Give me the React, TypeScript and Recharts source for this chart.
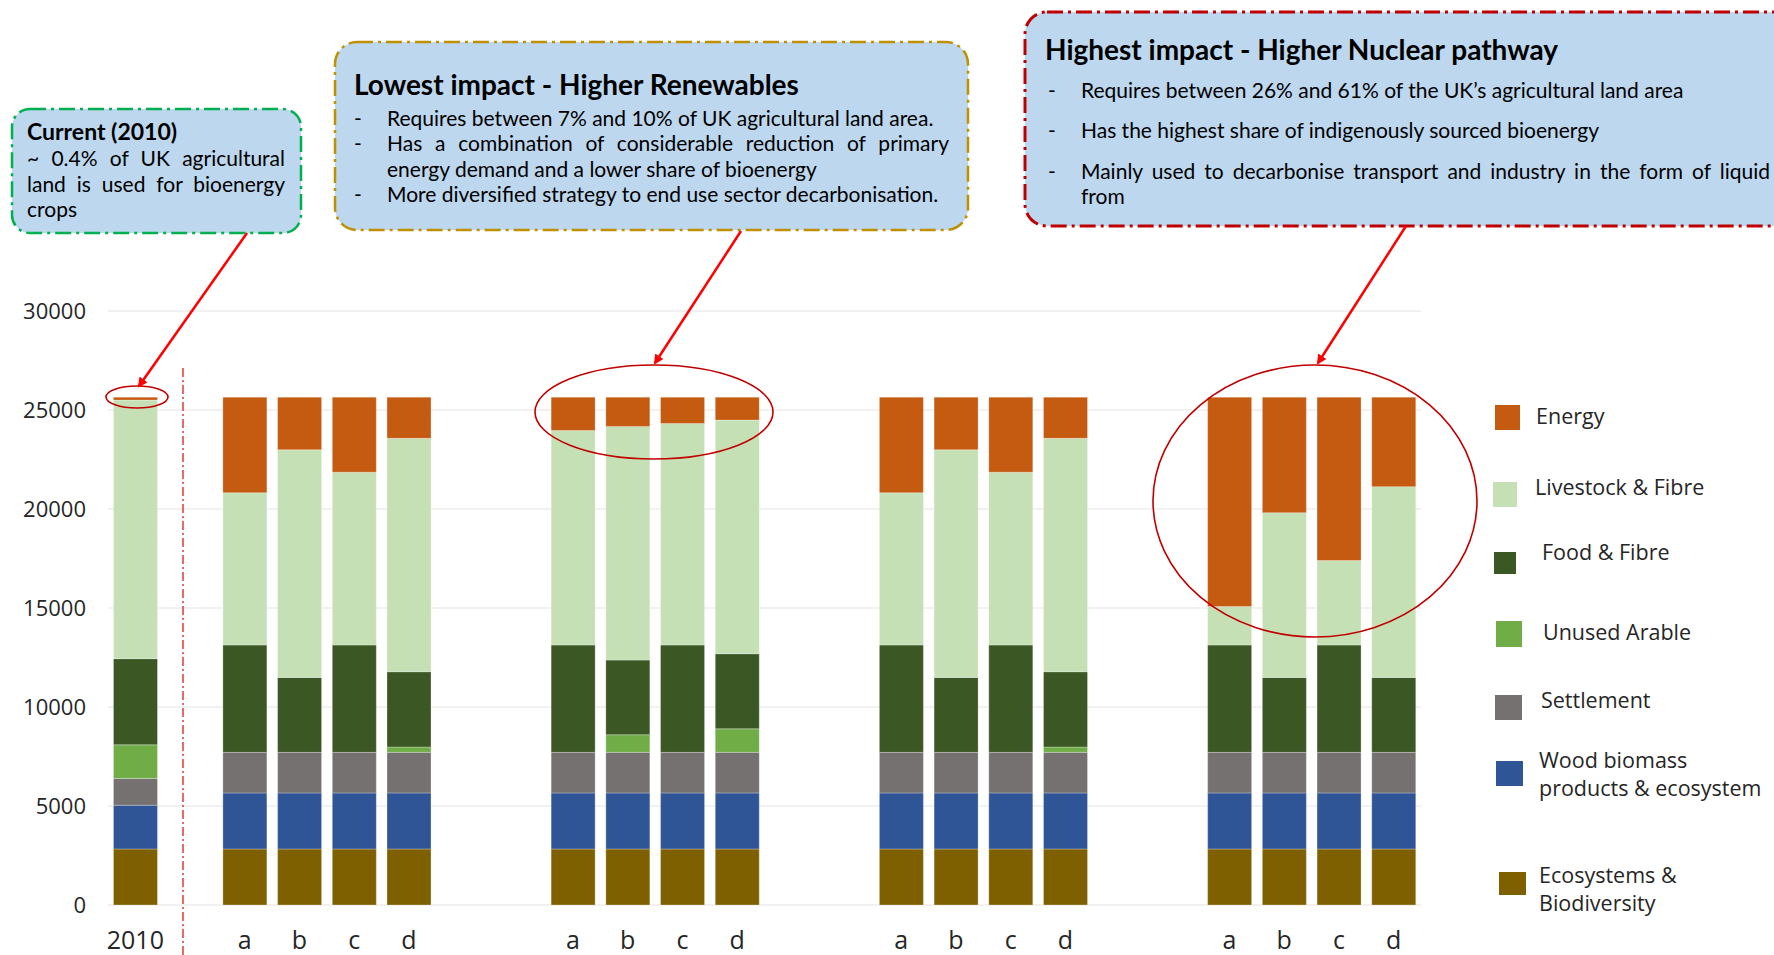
import React from 'react';
import { Bar, BarChart, CartesianGrid, XAxis, YAxis } from 'recharts';

// x slots: 2010, gap, 4 scenarios (a-d) per pathway, two empty slots between pathways
const categories = ['2010', '', 'a', 'b', 'c', 'd', '', '', 'a', 'b', 'c', 'd', '', '', 'a', 'b', 'c', 'd', '', '', 'a', 'b', 'c', 'd'];

const ecosystems = [2830, null, 2830, 2830, 2830, 2830, null, null, 2830, 2830, 2830, 2830, null, null, 2830, 2830, 2830, 2830, null, null, 2830, 2830, 2830, 2830];
const wood = [2210, null, 2830, 2830, 2830, 2830, null, null, 2830, 2830, 2830, 2830, null, null, 2830, 2830, 2830, 2830, null, null, 2830, 2830, 2830, 2830];
const settlement = [1350, null, 2050, 2050, 2050, 2050, null, null, 2050, 2050, 2050, 2050, null, null, 2050, 2050, 2050, 2050, null, null, 2050, 2050, 2050, 2050];
const unused = [1700, null, 0, 0, 0, 270, null, null, 0, 890, 0, 1190, null, null, 0, 0, 0, 270, null, null, 0, 0, 0, 0];
const food = [4350, null, 5420, 3780, 5420, 3800, null, null, 5420, 3770, 5420, 3790, null, null, 5420, 3780, 5420, 3800, null, null, 5420, 3780, 5420, 3780];
const livestock = [13060, null, 7690, 11500, 8730, 11790, null, null, 10840, 11800, 11190, 11800, null, null, 7690, 11500, 8730, 11790, null, null, 1940, 8320, 4270, 9640];
const energy = [150, null, 4830, 2660, 3790, 2080, null, null, 1680, 1480, 1330, 1160, null, null, 4830, 2660, 3790, 2080, null, null, 10580, 5840, 8250, 4520];

const yTicks = [0, 5000, 10000, 15000, 20000, 25000, 30000];

const series = [
  { key: 'eco', name: 'Ecosystems & Biodiversity', values: ecosystems, color: '#7F6000' },
  { key: 'wood', name: 'Wood biomass products & ecosystem', values: wood, color: '#2F5597' },
  { key: 'settlement', name: 'Settlement', values: settlement, color: '#767171' },
  { key: 'unused', name: 'Unused Arable', values: unused, color: '#70AD47' },
  { key: 'food', name: 'Food & Fibre', values: food, color: '#3A5724' },
  { key: 'livestock', name: 'Livestock & Fibre', values: livestock, color: '#C5E0B4' },
  { key: 'energy', name: 'Energy', values: energy, color: '#C55A11' },
];

const data = categories.map((label, i) => {
  const row: Record<string, string | number | null> = { slot: String(i), label };
  series.forEach((s) => {
    row[s.key] = s.values[i];
  });
  return row;
});

const FONT = '"Open Sans", "DejaVu Sans", sans-serif';
const BOX_FONT = 'Lato, "Open Sans", sans-serif';

// legend rows, top to bottom (offsets inside the legend block)
const legendRows = [
  { key: 'energy', lines: ['Energy'], box: [5, 10, 25, 25], text: [46, 21] },
  { key: 'livestock', lines: ['Livestock & Fibre'], box: [3, 87, 24, 25], text: [45, 92] },
  { key: 'food', lines: ['Food & Fibre'], box: [4, 157, 22, 22], text: [52, 157] },
  { key: 'unused', lines: ['Unused Arable'], box: [6, 226, 26, 26], text: [53, 237] },
  { key: 'settlement', lines: ['Settlement'], box: [5, 300, 27, 25], text: [51, 305] },
  { key: 'wood', lines: ['Wood biomass', 'products & ecosystem'], box: [6, 366, 27, 25], text: [49, 365] },
  { key: 'eco', lines: ['Ecosystems &', 'Biodiversity'], box: [9, 477, 27, 23], text: [49, 480] },
];

const LegendBlock = () => (
  <div style={{ position: 'absolute', left: 1490, top: 395, width: 284, height: 530, fontFamily: FONT, color: '#262626' }}>
    {legendRows.map((r) => {
      const s = series.find((x) => x.key === r.key)!;
      return (
        <React.Fragment key={r.key}>
          <div style={{ position: 'absolute', left: r.box[0], top: r.box[1], width: r.box[2], height: r.box[3], background: s.color }} />
          <div style={{ position: 'absolute', left: r.text[0], top: r.text[1] - 14, fontSize: 21.5, lineHeight: '28px', whiteSpace: 'nowrap' }}>
            {r.lines.map((l) => (
              <div key={l}>{l}</div>
            ))}
          </div>
        </React.Fragment>
      );
    })}
  </div>
);

const Bullet = ({ text, width, gap }: { text: string; width: number; gap: number }) => (
  <div style={{ display: 'flex', marginBottom: gap }}>
    <div style={{ width: 33, flex: 'none' }}>-</div>
    <div style={{ width, textAlign: 'justify' }}>{text}</div>
  </div>
);

const Overlay = () => (
  <>
    <svg width={1774} height={955} style={{ position: 'absolute', left: 0, top: 0, pointerEvents: 'none' }}>
      <defs>
        <marker id="arrow" viewBox="0 0 10 10" refX="8" refY="5" markerWidth="4" markerHeight="4" orient="auto-start-reverse">
          <path d="M0,0 L10,5 L0,10 z" fill="#FF0000" />
        </marker>
      </defs>
      <line x1={183} y1={368} x2={183} y2={955} stroke="#E03A3A" strokeWidth={1.5} strokeDasharray="9 3 2 3" />
      <rect x={12} y={109} width={289} height={124} rx={18} fill="#BDD7EE" stroke="#00B050" strokeWidth={2.5} strokeDasharray="16 5 3 5" />
      <rect x={335} y={42} width={633} height={188} rx={22} fill="#BDD7EE" stroke="#BF9000" strokeWidth={2.5} strokeDasharray="16 5 3 5" />
      <rect x={1025} y={12} width={790} height={214} rx={22} fill="#BDD7EE" stroke="#C00000" strokeWidth={3} strokeDasharray="16 5 3 5" />
      <ellipse cx={137} cy={397} rx={31} ry={11} fill="none" stroke="#C00000" strokeWidth={1.6} />
      <ellipse cx={654} cy={412} rx={119} ry={47} fill="none" stroke="#C00000" strokeWidth={1.6} />
      <ellipse cx={1315} cy={501} rx={162} ry={136} fill="none" stroke="#C00000" strokeWidth={1.6} />
      <line x1={247} y1={233} x2={139} y2={386} stroke="#FF0000" strokeWidth={2.5} markerEnd="url(#arrow)" />
      <line x1={741} y1={231} x2={655} y2={363} stroke="#FF0000" strokeWidth={2.5} markerEnd="url(#arrow)" />
      <line x1={1406} y1={226} x2={1318} y2={363} stroke="#FF0000" strokeWidth={2.5} markerEnd="url(#arrow)" />
    </svg>

    <div style={{ position: 'absolute', left: 27, top: 118, width: 258, fontFamily: BOX_FONT, color: '#000' }}>
      <div style={{ fontSize: 23, fontWeight: 700, lineHeight: '27px' }}>Current (2010)</div>
      <div style={{ fontSize: 21, lineHeight: '25.5px', textAlign: 'justify' }}>
        ~ 0.4% of UK agricultural land is used for bioenergy crops
      </div>
    </div>

    <div style={{ position: 'absolute', left: 354, top: 66, width: 600, fontFamily: BOX_FONT, color: '#000' }}>
      <div style={{ fontSize: 28, fontWeight: 700, lineHeight: '36px', marginBottom: 3 }}>Lowest impact - Higher Renewables</div>
      <div style={{ fontSize: 21, lineHeight: '25.3px' }}>
        <Bullet width={562} gap={0} text="Requires between 7% and 10% of UK agricultural land area." />
        <Bullet width={562} gap={0} text="Has a combination of considerable reduction of primary energy demand and a lower share of bioenergy" />
        <Bullet width={562} gap={0} text="More diversified strategy to end use sector decarbonisation." />
      </div>
    </div>

    <div style={{ position: 'absolute', left: 1045, top: 31, width: 730, fontFamily: BOX_FONT, color: '#000' }}>
      <div style={{ fontSize: 28, fontWeight: 700, lineHeight: '36px', marginBottom: 10 }}>Highest impact - Higher Nuclear pathway</div>
      <div style={{ fontSize: 21, lineHeight: '25.3px', paddingLeft: 3 }}>
        <Bullet width={689} gap={15} text="Requires between 26% and 61% of the UK’s agricultural land area" />
        <Bullet width={689} gap={15} text="Has the highest share of indigenously sourced bioenergy" />
        <Bullet width={689} gap={0} text="Mainly used to decarbonise transport and industry in the form of liquid from" />
      </div>
    </div>
  </>
);

const App = () => (
  <div style={{ position: 'absolute', left: 0, top: 0, width: 1774, height: 955, overflow: 'hidden', background: '#fff' }}>
    <BarChart
      width={1774}
      height={955}
      data={data}
      margin={{ top: 311, right: 353, bottom: 0, left: 8 }}
      barCategoryGap="10%"
    >
      <CartesianGrid vertical={false} stroke="#E3E3E3" />
      <XAxis
        dataKey="slot"
        interval={0}
        axisLine={false}
        tickLine={false}
        height={50}
        tickMargin={20}
        tickFormatter={(v) => categories[Number(v)]}
        tick={{ fontSize: 25, fill: '#262626', fontFamily: FONT }}
      />
      <YAxis
        domain={[0, 30000]}
        ticks={yTicks}
        width={100}
        axisLine={false}
        tickLine={false}
        tickMargin={16}
        tick={{ fontSize: 22, fill: '#262626', fontFamily: FONT }}
      />
      {series.map((s) => (
        <Bar
          key={s.key}
          dataKey={s.key}
          name={s.name}
          stackId="land"
          fill={s.color}
          stroke="#ffffff"
          strokeOpacity={0.35}
          strokeWidth={0.8}
          isAnimationActive={false}
        />
      ))}
    </BarChart>
    <LegendBlock />
    <Overlay />
  </div>
);

export default App;
